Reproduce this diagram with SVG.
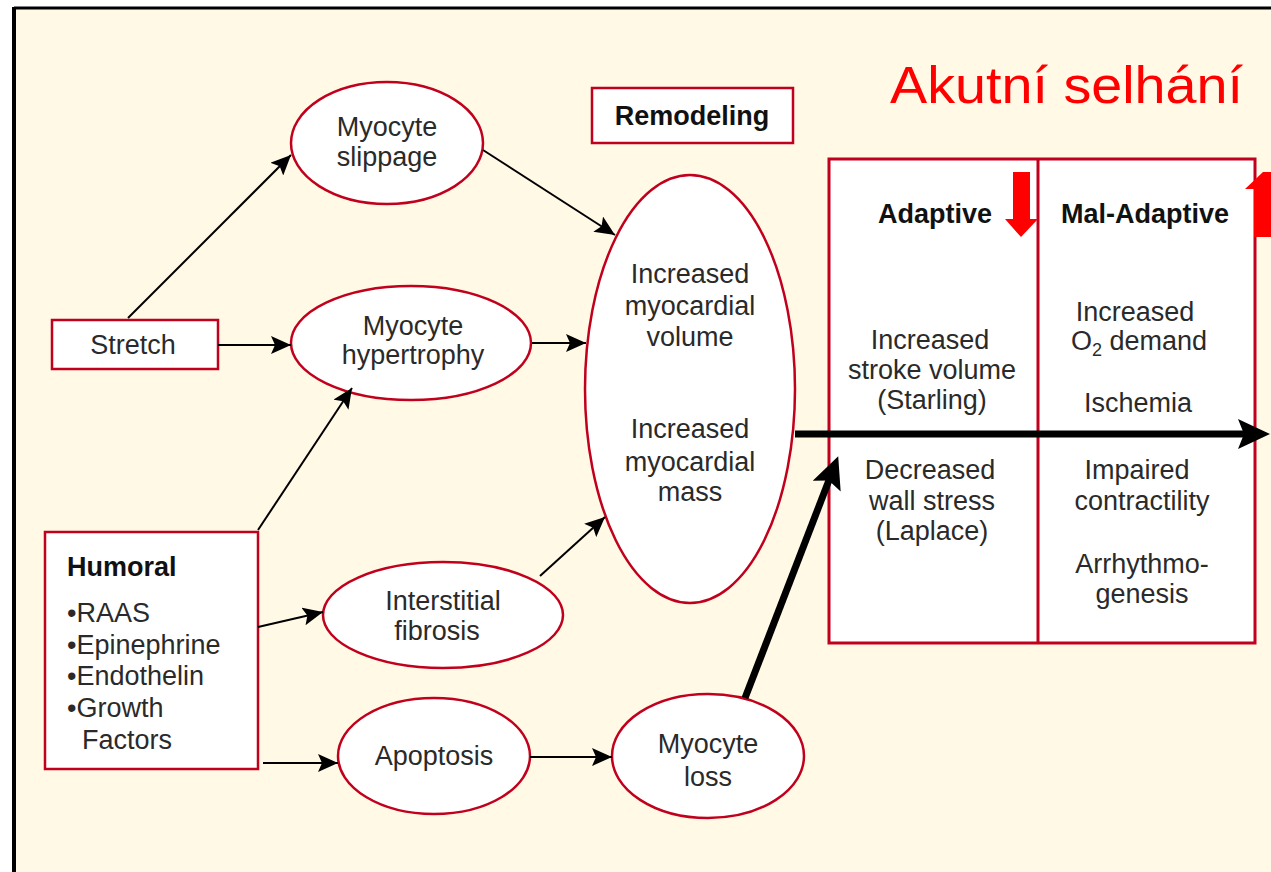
<svg xmlns="http://www.w3.org/2000/svg" width="1271" height="872" viewBox="0 0 1271 872">
<defs>
<style>
.bg{fill:#FFF9E6}
.frame{stroke:#000;fill:none}
.node{fill:#fff;stroke:#C0001C;stroke-width:2.5}
.t{font-family:"Liberation Sans",Arial,sans-serif;font-size:27px;fill:#2a2a2a;text-anchor:middle}
.tl{font-family:"Liberation Sans",Arial,sans-serif;font-size:27px;fill:#2a2a2a}
.b{font-family:"Liberation Sans",Arial,sans-serif;font-size:27px;font-weight:bold;fill:#111}
.c{stroke:#000;stroke-width:2;fill:none}
.ct{stroke:#000;stroke-width:7;fill:none}
</style>
<marker id="ah" markerUnits="userSpaceOnUse" markerWidth="22" markerHeight="18" refX="20" refY="9" orient="auto">
<path d="M0,0 L20,9 L0,18 L4,9 z" fill="#000"/>
</marker>
<marker id="ahT" markerUnits="userSpaceOnUse" markerWidth="34" markerHeight="30" refX="12" refY="15" orient="auto">
<path d="M0,0 L32,15 L0,30 L6,15 z" fill="#000"/>
</marker>
</defs>
<rect x="0" y="0" width="1271" height="872" fill="#fff"/>
<rect class="bg" x="14" y="8" width="1257" height="864"/>
<line class="frame" x1="14" y1="8" x2="1271" y2="8" stroke-width="3"/>
<line class="frame" x1="14" y1="7" x2="14" y2="872" stroke-width="4"/>

<text x="890" y="103" font-family="'Liberation Sans',Arial,sans-serif" font-size="52" fill="#FF0000" textLength="353" lengthAdjust="spacingAndGlyphs">Akutní selhání</text>

<g id="table">
<rect x="829" y="159" width="426" height="484" fill="#fff" stroke="#C0001C" stroke-width="3"/>
<line x1="1038" y1="159" x2="1038" y2="643" stroke="#C0001C" stroke-width="3"/>
<text class="b" x="935" y="223" text-anchor="middle">Adaptive</text>
<text class="b" x="1145" y="223" text-anchor="middle">Mal-Adaptive</text>
<text class="t" x="930" y="349">Increased</text>
<text class="t" x="932" y="379">stroke volume</text>
<text class="t" x="932" y="409">(Starling)</text>
<text class="t" x="930" y="479">Decreased</text>
<text class="t" x="932" y="510">wall stress</text>
<text class="t" x="932" y="540">(Laplace)</text>
<text class="t" x="1135" y="321">Increased</text>
<text class="t" x="1139" y="350">O<tspan font-size="18" dy="6">2</tspan><tspan dy="-6"> demand</tspan></text>
<text class="t" x="1138" y="412">Ischemia</text>
<text class="t" x="1137" y="479">Impaired</text>
<text class="t" x="1142" y="510">contractility</text>
<text class="t" x="1142" y="573">Arrhythmo-</text>
<text class="t" x="1142" y="603">genesis</text>
<polygon points="1013,172 1030,172 1030,219 1038,219 1021,237 1005,219 1013,219" fill="#FF0000"/>
<polygon points="1254,237 1271,237 1271,172 1263,172 1245,189 1254,189" fill="#FF0000"/>
</g>

<g id="remodeling">
<rect class="node" x="592" y="88" width="201" height="55"/>
<text class="b" x="692" y="125" text-anchor="middle">Remodeling</text>
</g>

<g id="stretch">
<rect class="node" x="52" y="320" width="166" height="49"/>
<text class="t" x="133" y="354">Stretch</text>
</g>

<g id="humoral">
<rect class="node" x="45" y="532" width="213" height="237"/>
<text class="b" x="67" y="576">Humoral</text>
<text class="tl" x="67" y="622">•RAAS</text>
<text class="tl" x="67" y="654">•Epinephrine</text>
<text class="tl" x="67" y="685">•Endothelin</text>
<text class="tl" x="67" y="717">•Growth</text>
<text class="tl" x="82" y="749">Factors</text>
</g>

<g id="slippage">
<ellipse class="node" cx="387" cy="143" rx="96" ry="61"/>
<text class="t" x="387" y="136">Myocyte</text>
<text class="t" x="387" y="166">slippage</text>
</g>

<g id="hypertrophy">
<ellipse class="node" cx="411" cy="343" rx="120" ry="57"/>
<text class="t" x="413" y="335">Myocyte</text>
<text class="t" x="413" y="364">hypertrophy</text>
</g>

<g id="myocardial">
<ellipse class="node" cx="690" cy="389" rx="105" ry="214"/>
<text class="t" x="690" y="283">Increased</text>
<text class="t" x="690" y="315">myocardial</text>
<text class="t" x="690" y="346">volume</text>
<text class="t" x="690" y="438">Increased</text>
<text class="t" x="690" y="471">myocardial</text>
<text class="t" x="690" y="501">mass</text>
</g>

<g id="fibrosis">
<ellipse class="node" cx="443" cy="615" rx="120" ry="53"/>
<text class="t" x="443" y="610">Interstitial</text>
<text class="t" x="437" y="640">fibrosis</text>
</g>

<g id="apoptosis">
<ellipse class="node" cx="434" cy="756" rx="96" ry="58"/>
<text class="t" x="434" y="765">Apoptosis</text>
</g>

<g id="myocyteloss">
<ellipse class="node" cx="708" cy="756" rx="96" ry="62"/>
<text class="t" x="708" y="753">Myocyte</text>
<text class="t" x="708" y="786">loss</text>
</g>

<g id="connectors">
<line class="c" x1="128" y1="318" x2="291" y2="155" marker-end="url(#ah)"/>
<line class="c" x1="218" y1="345" x2="291" y2="345" marker-end="url(#ah)"/>
<line class="c" x1="258" y1="530" x2="352" y2="388" marker-end="url(#ah)"/>
<line class="c" x1="258" y1="627" x2="323" y2="612" marker-end="url(#ah)"/>
<line class="c" x1="263" y1="763" x2="338" y2="763" marker-end="url(#ah)"/>
<line class="c" x1="483" y1="150" x2="615" y2="235" marker-end="url(#ah)"/>
<line class="c" x1="532" y1="343" x2="586" y2="343" marker-end="url(#ah)"/>
<line class="c" x1="540" y1="576" x2="605" y2="517" marker-end="url(#ah)"/>
<line class="c" x1="530" y1="757" x2="612" y2="757" marker-end="url(#ah)"/>
<line class="ct" x1="745" y1="698" x2="831" y2="475" marker-end="url(#ahT)"/>
<line class="ct" x1="795" y1="434" x2="1250" y2="434" marker-end="url(#ahT)"/>
</g>
</svg>
